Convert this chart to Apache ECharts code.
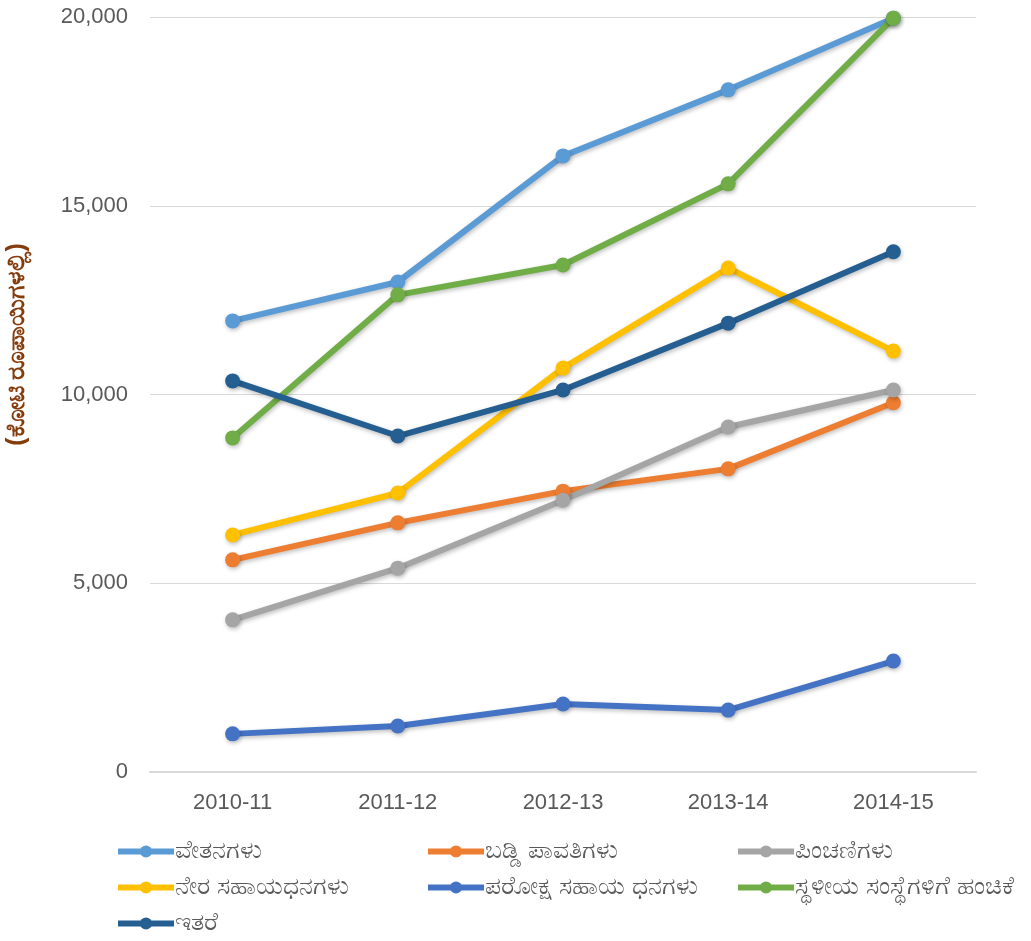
<!DOCTYPE html>
<html><head><meta charset="utf-8">
<script src="https://cdn.jsdelivr.net/npm/echarts@6/dist/echarts.min.js"></script>
<style>html,body{margin:0;padding:0;background:#fff}#c{width:1031px;height:941px}</style>
</head><body><div id="c"></div>
<script>
const categories = ['2010-11','2011-12','2012-13','2013-14','2014-15'];
const seriesNames = ['ವೇತನಗಳು','ಬಡ್ಡಿ ಪಾವತಿಗಳು','ಪಿಂಚಣಿಗಳು','ನೇರ ಸಹಾಯಧನಗಳು','ಪರೋಕ್ಷ ಸಹಾಯ ಧನಗಳು','ಸ್ಥಳೀಯ ಸಂಸ್ಥೆಗಳಿಗೆ ಹಂಚಿಕೆ','ಇತರೆ'];
const salaries = [11950, 12980, 16320, 18070, 19970];
const interest = [5620, 6600, 7440, 8030, 9780];
const pensions = [4030, 5400, 7200, 9140, 10120];
const directSubsidies = [6280, 7390, 10700, 13350, 11150];
const indirectSubsidies = [1010, 1220, 1800, 1640, 2940];
const localBodies = [8850, 12640, 13430, 15580, 19970];
const others = [10360, 8900, 10120, 11890, 13780];
const colors = ['#5B9BD5','#ED7D31','#A5A5A5','#FFC000','#4472C4','#70AD47','#255E91'];
const yAxisName = '(ಕೋಟಿ ರೂಪಾಯಿಗಳಲ್ಲಿ)';

const allData = [salaries, interest, pensions, directSubsidies, indirectSubsidies, localBodies, others];
const legendLeft = [115, 425, 735];
const legendTop = [839, 875, 911];
const chart = echarts.init(document.getElementById('c'));
chart.setOption({
  animation: false,
  color: colors,
  grid: { left: 150, right: 55, top: 17, bottom: 169, outerBoundsMode: 'none', containLabel: false },
  legend: seriesNames.map((n, i) => ({
    left: legendLeft[i % 3], top: legendTop[Math.floor(i / 3)], padding: 0,
    itemWidth: 56, itemHeight: 15, itemGap: 0,
    textStyle: { color: '#595959', fontSize: 25, padding: [0, 0, 0, -4] },
    itemStyle: { color: colors[i] },
    lineStyle: { width: 6, color: colors[i] },
    data: [n]
  })),
  xAxis: {
    type: 'category', data: categories, boundaryGap: true,
    axisLine: { lineStyle: { color: '#D9D9D9', width: 2 } },
    axisTick: { show: false },
    axisLabel: { color: '#595959', fontSize: 22, margin: 20 }
  },
  yAxis: {
    type: 'value', min: 0, max: 20000, interval: 5000,
    name: yAxisName, nameLocation: 'middle', nameGap: 120, nameRotate: 90,
    nameTextStyle: { color: '#843C0C', fontSize: 25, fontWeight: 'bold', padding: [0, 0, 0, 100] },
    axisLine: { show: false }, axisTick: { show: false },
    axisLabel: { color: '#595959', fontSize: 22, margin: 22,
      formatter: v => v.toLocaleString('en-US') },
    splitLine: { lineStyle: { color: '#D9D9D9', width: 1 } }
  },
  series: seriesNames.map((n, i) => ({
    name: n, type: 'line', data: allData[i],
    symbol: 'circle', symbolSize: 15,
    lineStyle: { width: 6, color: colors[i], shadowColor: 'rgba(0,0,0,0.25)', shadowBlur: 4, shadowOffsetX: 1, shadowOffsetY: 2 },
    itemStyle: { color: colors[i], shadowColor: 'rgba(0,0,0,0.25)', shadowBlur: 4, shadowOffsetX: 1, shadowOffsetY: 2 }
  }))
});
</script></body></html>
